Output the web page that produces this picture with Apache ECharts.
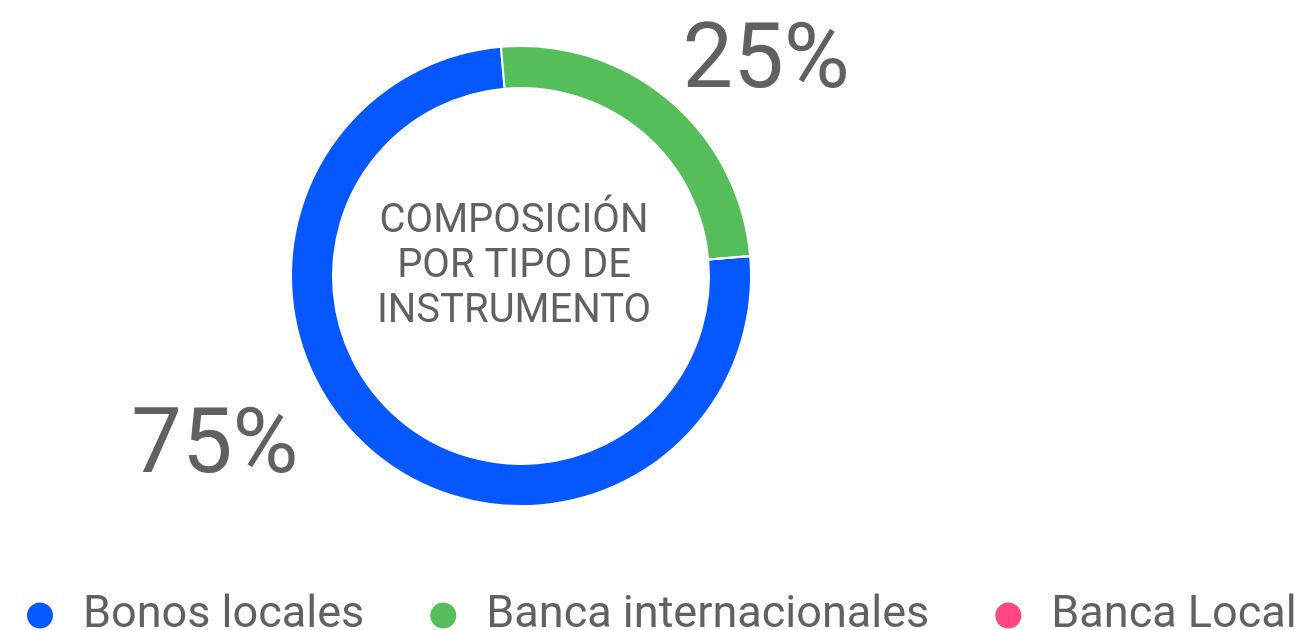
<!DOCTYPE html>
<html>
<head>
<meta charset="utf-8">
<script src="https://cdn.jsdelivr.net/npm/echarts@6/dist/echarts.min.js"></script>
<style>
  html, body { margin: 0; padding: 0; background: #fff; }
  #chart { width: 1302px; height: 630px; }
</style>
</head>
<body>
<div id="chart"></div>
<script>
const categories = ['Bonos locales', 'Banca internacionales', 'Banca Local'];
const shares = [75, 25, 0];
const colors = ['#0557ff', '#56bd5b', '#ff4785'];
const centerTitle = 'COMPOSICIÓN\nPOR TIPO DE\nINSTRUMENTO';

const textGray = '#616161';
const labelOffsets = [[-34, -33], [-27, -5], [0, 0]];

const chart = echarts.init(document.getElementById('chart'), null, { renderer: 'canvas' });

const option = {
  animation: false,
  color: colors,
  graphic: [{
    type: 'text',
    x: 514,
    y: 267,
    style: {
      text: centerTitle,
      align: 'center',
      verticalAlign: 'middle',
      fontFamily: 'Roboto',
      fontSize: 40,
      lineHeight: 45,
      fill: textGray
    }
  }],
  legend: {
    top: 593,
    left: 25,
    padding: 0,
    itemGap: 64,
    itemWidth: 76,
    itemHeight: 28,
    icon: 'circle',
    textStyle: { fontFamily: 'Roboto', fontSize: 45, color: textGray },
    data: categories
  },
  series: [{
    type: 'pie',
    center: [521, 276],
    radius: [188, 230],
    startAngle: 5,
    clockwise: true,
    avoidLabelOverlap: false,
    itemStyle: { borderColor: '#fff', borderWidth: 2 },
    label: {
      show: true,
      position: 'outside',
      fontFamily: 'Roboto',
      fontSize: 90,
      color: textGray,
      formatter: p => p.value > 0 ? p.value + '%' : ''
    },
    labelLine: { show: false, length: 40, length2: 10 },
    emphasis: { disabled: true },
    data: categories.map((name, i) => ({
      name: name,
      value: shares[i],
      label: { offset: labelOffsets[i] }
    }))
  }]
};

chart.setOption(option);
</script>
</body>
</html>
